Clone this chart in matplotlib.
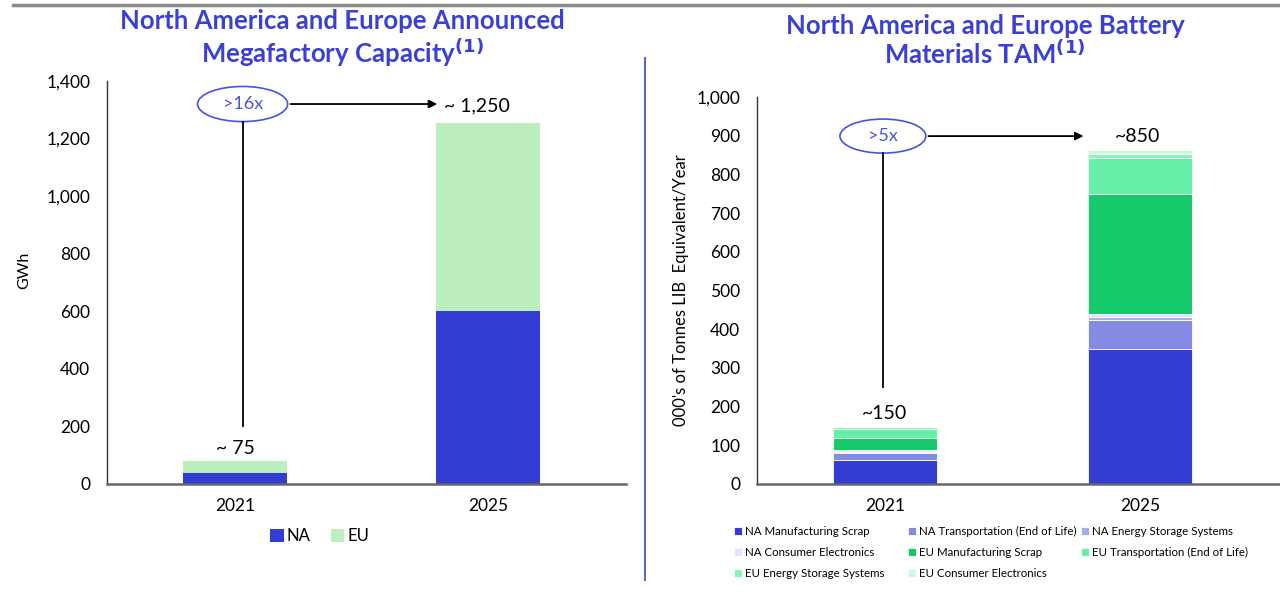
import matplotlib.pyplot as plt
from matplotlib.patches import Ellipse
from matplotlib.lines import Line2D

plt.rcParams['font.family'] = ['Lato', 'DejaVu Sans']

years = ['2021', '2025']

# Megafactory capacity, GWh
cap_na = [37, 600]
cap_eu = [42, 655]

# Battery materials TAM, 000's tonnes LIB equivalent / year
tam_labels = ['NA Manufacturing Scrap', 'NA Transportation (End of Life)', 'NA Energy Storage Systems',
              'NA Consumer Electronics', 'EU Manufacturing Scrap', 'EU Transportation (End of Life)',
              'EU Energy Storage Systems', 'EU Consumer Electronics']
tam_values = [[62, 348], [17, 75], [3, 8], [5, 9], [32, 310], [24, 93], [3, 9], [4, 10]]
tam_colors = ['#333dd3', '#858ae4', '#a9acec', '#e2e4f8', '#16c96b', '#66efa6', '#8cf2bf', '#cdf8de']

title_blue = '#3a3fd6'
blue = '#333dd3'

fig = plt.figure(figsize=(12.8, 5.95), dpi=100)

# frame lines
fig.add_artist(Line2D([0.01, 1.0], [1 - 5 / 595, 1 - 5 / 595], color='#8a8a8a', lw=2.5))
fig.add_artist(Line2D([645 / 1280, 645 / 1280], [1 - 58 / 595, 1 - 580 / 595], color='#5a6bbd', lw=1.5))

fig.text(342 / 1280, 1 - 39 / 595, 'North America and Europe Announced\nMegafactory Capacity$^{\\mathbf{(1)}}$',
         ha='center', va='center', fontsize=18.5, fontweight='bold', color=title_blue, linespacing=1.1)
fig.text(985 / 1280, 1 - 41 / 595, 'North America and Europe Battery\nMaterials TAM$^{\\mathbf{(1)}}$',
         ha='center', va='center', fontsize=18.5, fontweight='bold', color=title_blue, linespacing=1.1)

# ---- left chart ----
ax1 = fig.add_axes([107 / 1280, 1 - 484 / 595, 519 / 1280, 403 / 595])
x = [0, 1]
ax1.bar(x, cap_na, width=0.41, color=blue, label='NA')
ax1.bar(x, cap_eu, width=0.41, bottom=cap_na, color='#bdeec0', label='EU')
ax1.set_xlim(-0.506, 1.545)
ax1.set_ylim(0, 1400)
ax1.set_yticks(range(0, 1401, 200))
ax1.set_yticklabels([f'{v:,}' for v in range(0, 1401, 200)])
ax1.set_xticks(x)
ax1.set_xticklabels(years)
ax1.tick_params(length=0, labelsize=12.5, pad=12)
ax1.tick_params(axis='x', pad=10)
ax1.set_ylabel('GWh', fontsize=11.5)
ax1.yaxis.set_label_coords(-0.145, 0.53)
for s in ['top', 'right']:
    ax1.spines[s].set_visible(False)
ax1.spines['left'].set_color('#333333')
ax1.spines['left'].set_linewidth(1)
ax1.spines['bottom'].set_color('#666666')
ax1.spines['bottom'].set_linewidth(1.8)

ax1.add_patch(Ellipse((0.03, 1320), 0.356, 122, fill=False, edgecolor='#4a52e0', lw=1.2))
ax1.text(0.03, 1320, '>16x', ha='center', va='center', fontsize=13, color='#4a52e0')
ax1.annotate('', xy=(0.81, 1320), xytext=(0.208, 1320),
             arrowprops=dict(arrowstyle='-|>', color='black', lw=1.3, mutation_scale=12))
ax1.plot([0.03, 0.03], [1259, 201], color='black', lw=1.3)
ax1.text(0.957, 1313, '~ 1,250', ha='center', va='center', fontsize=14)
ax1.text(0, 122, '~ 75', ha='center', va='center', fontsize=14)
ax1.legend(loc='center', bbox_to_anchor=(0.41, -0.129), ncol=2, frameon=False, fontsize=12,
           handlelength=0.8, handleheight=0.8, handletextpad=0.2, columnspacing=1.2)

# ---- right chart ----
ax2 = fig.add_axes([757 / 1280, 1 - 484 / 595, 523 / 1280, 387 / 595])
bottom = [0, 0]
handles = []
for lab, vals, col in zip(tam_labels, tam_values, tam_colors):
    h = ax2.bar(x, vals, width=0.41, bottom=bottom, color=col, edgecolor='white', linewidth=0.6, label=lab)
    handles.append(h)
    bottom = [b + v for b, v in zip(bottom, vals)]
ax2.set_xlim(-0.502, 1.55)
ax2.set_ylim(0, 1000)
ax2.set_yticks(range(0, 1001, 100))
ax2.set_yticklabels([f'{v:,}' for v in range(0, 1001, 100)])
ax2.set_xticks(x)
ax2.set_xticklabels(years)
ax2.tick_params(length=0, labelsize=12.5, pad=12)
ax2.tick_params(axis='x', pad=10)
ax2.set_ylabel("000's of Tonnes LIB  Equivalent/Year", fontsize=12)
ax2.yaxis.set_label_coords(-0.13, 0.5)
for s in ['top', 'right']:
    ax2.spines[s].set_visible(False)
ax2.spines['left'].set_color('#333333')
ax2.spines['left'].set_linewidth(1)
ax2.spines['bottom'].set_color('#666666')
ax2.spines['bottom'].set_linewidth(1.8)

ax2.add_patch(Ellipse((-0.008, 899), 0.337, 88, fill=False, edgecolor='#4a52e0', lw=1.2))
ax2.text(-0.008, 899, '>5x', ha='center', va='center', fontsize=13, color='#4a52e0')
ax2.annotate('', xy=(0.79, 899), xytext=(0.16, 899),
             arrowprops=dict(arrowstyle='-|>', color='black', lw=1.3, mutation_scale=12))
ax2.plot([-0.008, -0.008], [855, 250], color='black', lw=1.3)
ax2.text(0.99, 899, '~850', ha='center', va='center', fontsize=14)
ax2.text(0, 181, '~150', ha='center', va='center', fontsize=14)

# legend laid out row by row in three fixed columns
columns = [[0, 3, 6], [1, 4, 7], [2, 5]]
col_x = [724, 898, 1071]
for idx, cx in zip(columns, col_x):
    fig.legend([handles[i] for i in idx], [tam_labels[i] for i in idx],
               loc='upper left', bbox_to_anchor=(cx / 1280, 1 - 516 / 595), ncol=1, frameon=False,
               fontsize=8.3, handlelength=0.7, handleheight=0.7, handletextpad=0.2, labelspacing=0.85)

plt.savefig('out.png', dpi=100)
